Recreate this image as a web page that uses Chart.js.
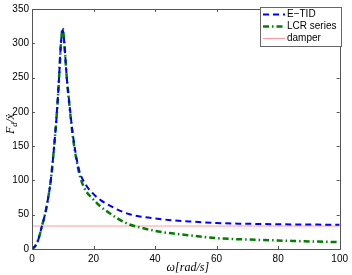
<!DOCTYPE html>
<html>
<head>
<meta charset="utf-8">
<script src="https://cdn.jsdelivr.net/npm/chart.js@4.4.0/dist/chart.umd.min.js"></script>
<style>
html,body{margin:0;padding:0;background:#fff;}
#wrap{width:352px;height:275px;position:relative;}
</style>
</head>
<body>
<div id="wrap"><canvas id="c" width="352" height="275"></canvas></div>
<script>
// ---- data ----
const seriesNames = ["E\u2212TID", "LCR series", "damper"];
const omegaETID = [0, 1, 2, 3.2, 4.2, 5, 6.1, 7.2, 8.1, 8.8, 9.4, 10, 10.5, 11.3, 12.2, 13.3, 15.2, 17.6, 20, 22.4, 25, 28, 31.5, 35, 40, 44.4, 50, 60, 70, 80, 90, 100];
const valETID   = [0, 4, 13, 33, 50, 68, 100, 150, 200, 250, 300, 319, 300, 250, 210, 166, 117, 93, 80, 71, 64, 57, 51, 47.5, 44.5, 42.4, 40.5, 37.8, 36.8, 36.1, 35.7, 35.3];
const omegaLCR  = [0, 1, 2, 3.2, 4.2, 5, 6.1, 7.2, 8.1, 8.8, 9.4, 10, 10.5, 11.3, 12.2, 13.3, 15.2, 17, 20, 22, 25, 28, 31.5, 35, 40, 44.4, 50, 60, 70, 80, 90, 100];
const valLCR    = [0, 4, 13, 33, 50, 68, 100, 150, 200, 250, 300, 322, 300, 250, 208, 163, 113, 89, 72, 63, 53, 44, 36, 31.5, 26.5, 23.3, 20.5, 15.8, 13.8, 12.4, 11.1, 10];
const omegaDamper = [0, 100];
const valDamper   = [33.5, 33.5];
const xTicks = [0, 20, 40, 60, 80, 100];
const yTicks = [0, 50, 100, 150, 200, 250, 300, 350];

const toXY = (xs, ys) => xs.map((x, i) => ({x: x, y: ys[i]}));

const FONT = "'Liberation Sans', Arial, Helvetica, sans-serif";
const SERIF = '"Liberation Serif", "DejaVu Serif", serif';

const boxPlugin = {
  id: 'boxPlugin',
  afterDraw(chart) {
    const {ctx, chartArea: a, scales} = chart;
    const xs = scales.x, ys = scales.y;
    ctx.save();
    ctx.strokeStyle = '#555';
    ctx.lineWidth = 1;
    ctx.strokeRect(Math.round(a.left) + 0.5, Math.round(a.top) + 0.5,
                   Math.round(a.right - a.left), Math.round(a.bottom - a.top));
    const L = 3;
    ctx.beginPath();
    xTicks.forEach(v => {
      const px = Math.round(xs.getPixelForValue(v)) + 0.5;
      ctx.moveTo(px, a.bottom); ctx.lineTo(px, a.bottom - L);
      ctx.moveTo(px, a.top); ctx.lineTo(px, a.top + L);
    });
    yTicks.forEach(v => {
      const py = Math.round(ys.getPixelForValue(v)) + 0.5;
      ctx.moveTo(a.left, py); ctx.lineTo(a.left + L, py);
      ctx.moveTo(a.right, py); ctx.lineTo(a.right - L, py);
    });
    ctx.stroke();

    // legend
    const lx = 260.5, ly = 7.5, lw = 81, lh = 39;
    ctx.fillStyle = '#fff';
    ctx.fillRect(lx, ly, lw, lh);
    ctx.strokeStyle = '#666';
    ctx.strokeRect(lx, ly, lw, lh);
    const ds = chart.data.datasets;
    ctx.font = '10px ' + FONT;
    ctx.textBaseline = 'middle';
    ds.forEach((d, i) => {
      const y = 14.5 + i * 12;
      ctx.beginPath();
      ctx.setLineDash(d.borderDash || []);
      ctx.strokeStyle = d.borderColor;
      ctx.lineWidth = d.borderWidth;
      ctx.moveTo(263, y); ctx.lineTo(285, y);
      ctx.stroke();
      ctx.setLineDash([]);
      ctx.fillStyle = '#000';
      ctx.fillText(seriesNames[i], 287, y);
    });

    // axis titles (italic math style)
    ctx.fillStyle = '#000';
    ctx.font = 'italic 12px ' + SERIF;
    ctx.textBaseline = 'alphabetic';
    ctx.textAlign = 'center';
    const cx = (a.left + a.right) / 2;
    ctx.fillText('\u03c9[rad/s]', cx + 2, 271);
    // y title rotated
    ctx.save();
    ctx.translate(14, 124);
    ctx.rotate(-Math.PI / 2);
    ctx.textAlign = 'left';
    const parts = [['F', 12, 0], ['d', 8.5, 2.5], ['/', 12, 0], ['\u1e8b', 12, 0]];
    let tw = 0;
    parts.forEach(p => { ctx.font = 'italic ' + p[1] + 'px ' + SERIF; tw += ctx.measureText(p[0]).width; });
    let x0 = -tw / 2;
    parts.forEach(p => {
      ctx.font = 'italic ' + p[1] + 'px ' + SERIF;
      ctx.fillText(p[0], x0, p[2]);
      x0 += ctx.measureText(p[0]).width;
    });
    ctx.restore();
    ctx.restore();
  }
};

new Chart(document.getElementById('c'), {
  type: 'line',
  data: {
    datasets: [
      { label: seriesNames[0], data: toXY(omegaETID, valETID), borderColor: '#0000ff', borderWidth: 2,
        borderDash: [6, 4], pointRadius: 0, cubicInterpolationMode: 'monotone', fill: false },
      { label: seriesNames[1], data: toXY(omegaLCR, valLCR), borderColor: '#007f00', borderWidth: 2.5,
        borderDash: [6, 3, 1.5, 3], pointRadius: 0, cubicInterpolationMode: 'monotone', fill: false },
      { label: seriesNames[2], data: toXY(omegaDamper, valDamper), borderColor: '#ff9a9a', borderWidth: 1,
        pointRadius: 0, fill: false }
    ]
  },
  options: {
    responsive: false,
    animation: false,
    events: [],
    layout: { padding: { top: 4, right: 8, left: 0, bottom: 0 } },
    plugins: { legend: { display: false }, tooltip: { enabled: false } },
    scales: {
      x: {
        type: 'linear', min: 0, max: 100,
        grid: { display: false, drawTicks: false },
        border: { display: false },
        afterBuildTicks: s => { s.ticks = xTicks.map(v => ({value: v})); },
        afterFit: s => { s.height = 26; },
        ticks: { padding: 4, color: '#000', font: { size: 10, family: FONT }, maxRotation: 0 }
      },
      y: {
        type: 'linear', min: 0, max: 350,
        grid: { display: false, drawTicks: false },
        border: { display: false },
        afterBuildTicks: s => { s.ticks = yTicks.map(v => ({value: v})); },
        afterFit: s => { s.width = 32; },
        ticks: { padding: 3, color: '#000', font: { size: 10, family: FONT } }
      }
    }
  },
  plugins: [boxPlugin]
});
</script>
</body>
</html>
